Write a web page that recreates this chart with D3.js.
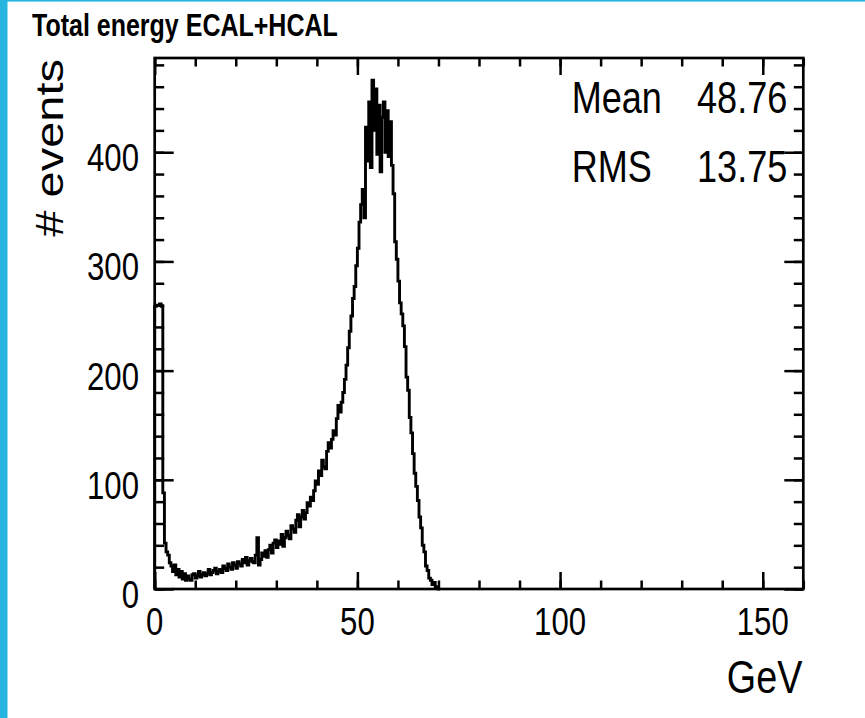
<!DOCTYPE html>
<html>
<head>
<meta charset="utf-8">
<script src="https://cdn.jsdelivr.net/npm/d3@7"></script>
<style>
  body { margin: 0; background: #ffffff; }
  text { font-family: "Liberation Sans", Arial, Helvetica, sans-serif; fill: #000; }
</style>
</head>
<body>
<svg id="chart" width="865" height="718"></svg>
<script>
// Total energy deposited in ECAL+HCAL, 0.4 GeV bins starting at 0 GeV
const binWidth = 0.4;
const counts = [
  259, 260, 260, 261, 259,  88,  42,  34,  31,  24,
   21,  16,  22,  13,  18,  11,  16,   9,  14,   8,
   12,   9,   8,  13,  14,  10,  12,  16,  11,  13,
   15,  12,  14,  18,  13,  15,  17,  19,  14,  16,
   18,  15,  21,  19,  17,  23,  20,  18,  24,  22,
   19,  25,  23,  21,  27,  24,  29,  22,  26,  28,
   25,  24,  31,  47,  22,  27,  33,  30,  35,  29,
   36,  40,  33,  42,  45,  38,  44,  41,  50,  39,
   47,  53,  49,  46,  58,  55,  52,  63,  68,  57,
   66,  72,  64,  70,  79,  76,  84,  81,  90,  99,
   96, 108, 104, 118, 112, 110, 126, 134, 129, 137,
  145, 141, 156, 168, 162, 171, 180, 192, 205, 221,
  236, 250, 266, 277, 296, 312, 336, 352, 366, 340,
  423, 392, 446, 386, 466, 420, 458, 398, 443, 382,
  432, 446, 400, 438, 396, 428, 388, 362, 318, 302,
  282, 262, 252, 241, 222, 194, 182, 157, 143, 124,
  106,  94,  81,  66,  56,  40,  34,  21,  17,  10,
    8,   4,   6,   2,   1,   0
];

const xRange = [0, 160];
const yMax = 486.3;
const xMajorTicks = [0, 50, 100, 150];
const xMinorTicks = d3.range(0, 161, 10);
const yMajorTicks = [0, 100, 200, 300, 400];
const yMinorTicks = d3.range(0, 481, 20);

const titleText = "Total energy ECAL+HCAL";
const xTitle = "GeV";
const yTitle = "# events";
const statNames = ["Mean", "RMS"];
const statValues = ["48.76", "13.75"];

const svg = d3.select("#chart");
const squeeze = 0.82; // narrow lettering

const x = d3.scaleLinear().domain(xRange).range([154.7, 803.3]);
const y = d3.scaleLinear().domain([0, yMax]).range([589, 58]);

// page border accents
svg.append("rect").attr("x", 0).attr("y", 0).attr("width", 7.5).attr("height", 718).attr("fill", "#26b5de");
svg.append("rect").attr("x", 0).attr("y", 0).attr("width", 865).attr("height", 1.6).attr("fill", "#26b5de");

function label(px, py, str, size, anchor, opts = {}) {
  const g = svg.append("g")
    .attr("transform", `translate(${px},${py}) scale(${squeeze},1)` + (opts.rotate ? ` rotate(${opts.rotate})` : ""));
  return g.append("text")
    .attr("x", 0).attr("y", 0)
    .attr("text-anchor", anchor)
    .attr("font-size", size)
    .attr("font-weight", opts.bold ? "bold" : "normal")
    .text(str);
}

// histogram outline
const pts = [{ e: 0, c: 0 }];
counts.forEach((c, i) => pts.push({ e: i * binWidth, c }));
pts.push({ e: counts.length * binWidth, c: 0 });
const line = d3.line()
  .x(d => x(d.e))
  .y(d => y(d.c))
  .curve(d3.curveStepAfter);
svg.append("path")
  .datum(pts)
  .attr("d", line)
  .attr("fill", "none")
  .attr("stroke", "#000")
  .attr("stroke-width", 2.9)
  .attr("stroke-linejoin", "miter");

// ticks on all four sides, pointing into the frame
function ticks(axisGen, scaleTicks, size, transform) {
  const g = svg.append("g")
    .attr("transform", transform)
    .call(axisGen.tickValues(scaleTicks).tickSize(size).tickFormat(""));
  g.select(".domain").remove();
  g.selectAll("line").attr("stroke", "#000").attr("stroke-width", 2.5);
}
ticks(d3.axisBottom(x), xMinorTicks, -8.5, `translate(0,${y(0)})`);
ticks(d3.axisBottom(x), xMajorTicks, -17, `translate(0,${y(0)})`);
ticks(d3.axisTop(x), xMinorTicks, -8.5, `translate(0,${y(yMax)})`);
ticks(d3.axisTop(x), xMajorTicks, -17, `translate(0,${y(yMax)})`);
ticks(d3.axisLeft(y), yMinorTicks, -9.5, `translate(${x(0)},0)`);
ticks(d3.axisLeft(y), yMajorTicks, -19, `translate(${x(0)},0)`);
ticks(d3.axisRight(y), yMinorTicks, -9.5, `translate(${x(160)},0)`);
ticks(d3.axisRight(y), yMajorTicks, -19, `translate(${x(160)},0)`);

// frame
svg.append("rect")
  .attr("x", x(0)).attr("y", y(yMax))
  .attr("width", x(160) - x(0)).attr("height", y(0) - y(yMax))
  .attr("fill", "none").attr("stroke", "#000").attr("stroke-width", 2.7);

// tick labels
xMajorTicks.forEach(v => label(x(v), 635, String(v), 38, "middle"));
yMajorTicks.forEach(v => label(139, y(v) + 19, String(v), 38, "end"));

// axis titles
label(802.3, 693.3, xTitle, 46, "end");
label(63.3, 59, yTitle, 47, "end", { rotate: -90 });

// statistics
statNames.forEach((s, i) => {
  const by = 113.3 + i * 68.4;
  label(571.7, by, s, 44, "start");
  label(787.3, by, statValues[i], 44, "end");
});

// title
label(32, 35.5, titleText, 30.5, "start", { bold: true });
</script>
</body>
</html>
